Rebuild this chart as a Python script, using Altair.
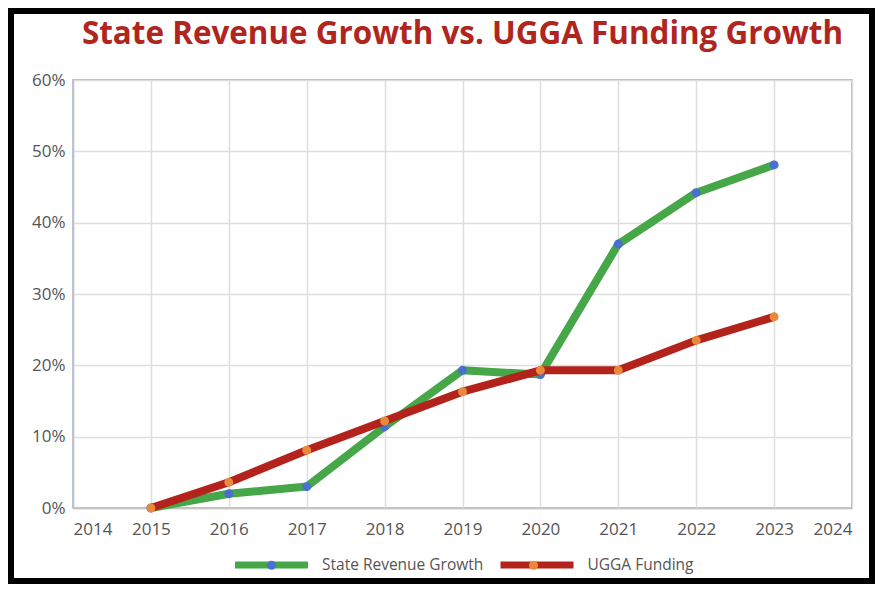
import altair as alt
import pandas as pd

years = [2015, 2016, 2017, 2018, 2019, 2020, 2021, 2022, 2023]
state_revenue = [0.0, 0.020, 0.030, 0.114, 0.193, 0.187, 0.370, 0.442, 0.481]
ugga_funding = [0.0, 0.036, 0.081, 0.122, 0.163, 0.193, 0.193, 0.235, 0.268]
series_names = ["State Revenue Growth", "UGGA Funding"]
line_colors = ["#45a748", "#b3231b"]
dot_colors = ["#4a6fd0", "#e9893c"]
x_ticks = list(range(2014, 2025))
y_ticks = [0.0, 0.1, 0.2, 0.3, 0.4, 0.5, 0.6]
title_text = "State Revenue Growth vs. UGGA Funding Growth"

df = pd.DataFrame({
    "year": years * 2,
    "value": state_revenue + ugga_funding,
    "series": [series_names[0]] * len(years) + [series_names[1]] * len(years),
})

W, H = 779, 428
PAD = {"left": 65, "top": 72, "right": 23, "bottom": 76}

FONT = "Open Sans"
LEG_X, LEG_Y = 158.5, 445
SYM = 73 * 73
DOT_PATH = "M-0.125,0A0.125,0.125,0,1,1,0.125,0A0.125,0.125,0,1,1,-0.125,0Z"

x_enc = alt.X("year:Q", scale=alt.Scale(domain=[2014, 2024], nice=False, zero=False),
              axis=alt.Axis(values=x_ticks, format="d", title=None, labelPadding=13))
y_enc = alt.Y("value:Q", scale=alt.Scale(domain=[0, 0.6], nice=False),
              axis=alt.Axis(values=y_ticks, format=".0%", title=None, labelPadding=8))

color_enc = alt.Color("series:N", scale=alt.Scale(domain=series_names, range=line_colors),
                      legend=alt.Legend(title=None, orient="none", legendX=LEG_X, legendY=LEG_Y,
                                        direction="horizontal", symbolType="stroke",
                                        symbolSize=SYM, symbolStrokeWidth=7,
                                        labelFont=FONT, labelFontSize=15.5, labelColor="#555555",
                                        labelLimit=400, labelOffset=10.5, columnPadding=2.5,
                                        padding=0))
# dots of the legend: separate legend (data-derived domain, same sorted order), no labels
fill_enc = alt.Fill("series:N", scale=alt.Scale(range=dot_colors),
                    legend=alt.Legend(title=None, orient="none", legendX=LEG_X, legendY=LEG_Y,
                                      direction="horizontal", symbolType=DOT_PATH,
                                      symbolSize=SYM, symbolStrokeWidth=7,
                                      symbolStrokeColor="transparent",
                                      labelExpr="''", labelOffset=0, columnPadding=182,
                                      padding=0))

base = alt.Chart(df)

layers = []
for name in series_names:
    sub = base.transform_filter(alt.datum.series == name)
    layers.append(sub.mark_line(strokeWidth=8, strokeCap="round", strokeJoin="round").encode(
        x=x_enc, y=y_enc, color=color_enc, detail="series:N"))
    layers.append(sub.mark_circle(size=80, opacity=1).encode(
        x=x_enc, y=y_enc, fill=fill_enc))

frame = alt.Chart(pd.DataFrame({"k": [0]})).mark_rect(
    fillOpacity=0, stroke="black", strokeWidth=12
).encode(
    x=alt.value(-PAD["left"]), x2=alt.value(W + PAD["right"]),
    y=alt.value(-PAD["top"]), y2=alt.value(H + PAD["bottom"]),
)

chart = alt.layer(*layers, frame).properties(
    width=W, height=H,
    title=alt.TitleParams(title_text, font=FONT, fontSize=31.4, fontWeight="bold",
                          color="#b0251d", anchor="middle", offset=0,
                          baseline="alphabetic", dy=73),
    autosize=alt.AutoSizeParams(type="none"),
    padding=PAD,
    background="white",
).configure_view(
    stroke="#8ea3c9", strokeWidth=1.5
).configure_axis(
    domainColor="#c4c4c4", domainWidth=1.5, gridColor="#dedede", gridWidth=1.5,
    ticks=False, labelFont=FONT, labelFontSize=17, labelColor="#555555",
)

chart.save("out.html", embed_options={"renderer": "svg", "actions": False})
